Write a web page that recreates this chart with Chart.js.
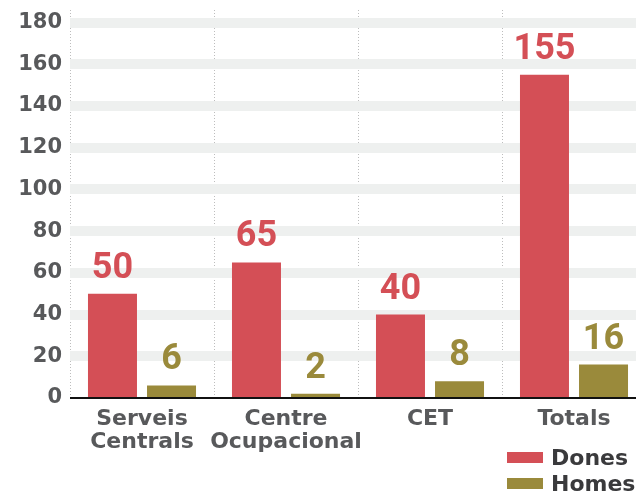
<!DOCTYPE html>
<html><head><meta charset="utf-8">
<script src="https://cdn.jsdelivr.net/npm/chart.js@4"></script>
<style>
html,body{margin:0;padding:0;overflow:hidden;background:#fff;width:636px;height:494px;}
#wrap{position:relative;width:646px;height:494px;}
#legend{position:absolute;left:507px;top:444px;font:bold 22px "DejaVu Sans";color:#3a3a3c;}
.item{display:flex;align-items:center;height:26px;}
.box{width:36px;height:11px;margin-right:8px;}
</style></head><body>
<div id="wrap"><canvas id="c" width="646" height="494"></canvas><div id="legend"></div></div>
<script>
const categories = [["Serveis","Centrals"],["Centre","Ocupacional"],"CET","Totals"];
const dones = [50, 65, 40, 155];
const homes = [6, 2, 8, 16];
const seriesNames = ["Dones", "Homes"];
const seriesColors = ["#d44f56", "#9a8a3b"];
const yTickValues = [0, 20, 40, 60, 80, 100, 120, 140, 160, 180];

const valueLabels = {
  id: 'valueLabels',
  afterDatasetsDraw(chart) {
    const ctx = chart.ctx;
    chart.data.datasets.forEach((ds, i) => {
      const meta = chart.getDatasetMeta(i);
      meta.data.forEach((bar, j) => {
        ctx.save();
        ctx.fillStyle = ds.backgroundColor;
        ctx.font = 'bold 36px Roboto';
        ctx.textAlign = 'center';
        ctx.textBaseline = 'alphabetic';
        ctx.fillText(String(ds.data[j]), bar.x, bar.y - 16);
        ctx.restore();
      });
    });
  }
};

const tickColor = '#58595b';
new Chart(document.getElementById('c'), {
  type: 'bar',
  data: {
    labels: categories,
    datasets: [
      { label: seriesNames[0], data: dones, backgroundColor: seriesColors[0], categoryPercentage: 0.82, barPercentage: 0.83 },
      { label: seriesNames[1], data: homes, backgroundColor: seriesColors[1], categoryPercentage: 0.82, barPercentage: 0.83 }
    ]
  },
  options: {
    responsive: false,
    animation: false,
    devicePixelRatio: 1,
    layout: { padding: { top: 10, left: 0, right: 0, bottom: 0 } },
    plugins: { legend: { display: false }, tooltip: { enabled: false } },
    scales: {
      x: {
        afterFit: s => { s.height = 96; s.paddingLeft = 0; s.paddingRight = 0; },
        grid: { display: true, offset: true, color: '#bdbdbd', lineWidth: 1, drawTicks: false },
        border: { display: false, dash: [1, 2] },
        ticks: { autoSkip: false, color: tickColor, font: { family: 'DejaVu Sans', weight: 'bold', size: 22, lineHeight: 1.08 }, padding: 9, maxRotation: 0 }
      },
      y: {
        min: 0, max: 186,
        afterFit: s => { s.width = 70; s.paddingTop = 0; s.paddingBottom = 0; },
        afterBuildTicks: s => { s.ticks = yTickValues.map(v => ({ value: v })); },
        grid: {
          drawTicks: false,
          color: c => c.tick && c.tick.value === 0 ? '#111111' : '#eef0ef',
          lineWidth: c => c.tick && c.tick.value === 0 ? 2 : 10
        },
        border: { display: false },
        ticks: { color: tickColor, font: { family: 'DejaVu Sans', weight: 'bold', size: 21 }, padding: 8 }
      }
    }
  },
  plugins: [valueLabels]
});

const legend = document.getElementById('legend');
seriesNames.forEach((n, i) => {
  const it = document.createElement('div'); it.className = 'item';
  const b = document.createElement('div'); b.className = 'box'; b.style.background = seriesColors[i];
  const t = document.createElement('span'); t.textContent = n;
  it.appendChild(b); it.appendChild(t); legend.appendChild(it);
});
</script>
</body></html>
